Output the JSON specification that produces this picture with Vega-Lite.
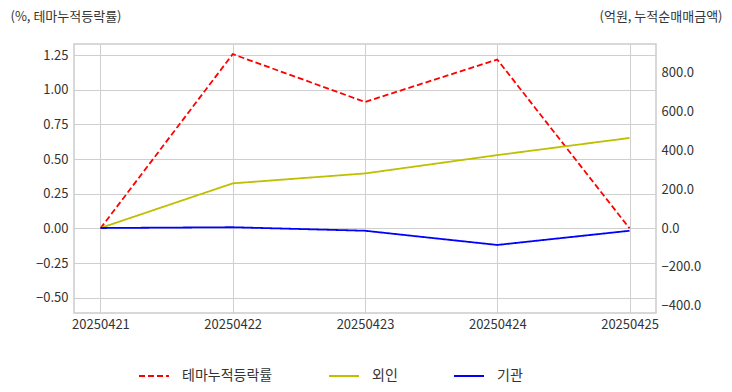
{
  "$schema": "https://vega.github.io/schema/vega-lite/v6.json",
  "width": 582,
  "height": 269,
  "autosize": {"type": "none"},
  "padding": {"left": 74, "top": 44, "right": 76, "bottom": 79},
  "background": "white",
  "config": {
    "font": "Noto Sans CJK KR",
    "view": {"stroke": "#cccccc", "strokeWidth": 1.5},
    "axis": {
      "gridColor": "#cfcfcf",
      "gridWidth": 1,
      "domain": false,
      "ticks": false,
      "labelColor": "#333333",
      "labelFontSize": 13,
      "labelFont": "Noto Sans CJK KR",
      "titleFont": "Noto Sans CJK KR",
      "titleFontWeight": "normal",
      "titleFontSize": 13,
      "titleColor": "#333333"
    },
    "legend": {
      "labelFont": "Noto Sans CJK KR",
      "labelFontSize": 14,
      "labelColor": "#333333"
    }
  },
  "datasets": {
    "theme": [
      {"date": "20250421", "series": "테마누적등락률", "value": 0.0},
      {"date": "20250422", "series": "테마누적등락률", "value": 1.257},
      {"date": "20250423", "series": "테마누적등락률", "value": 0.912},
      {"date": "20250424", "series": "테마누적등락률", "value": 1.218},
      {"date": "20250425", "series": "테마누적등락률", "value": 0.0}
    ],
    "flow": [
      {"date": "20250421", "series": "외인", "value": 0},
      {"date": "20250422", "series": "외인", "value": 229},
      {"date": "20250423", "series": "외인", "value": 280},
      {"date": "20250424", "series": "외인", "value": 374},
      {"date": "20250425", "series": "외인", "value": 462},
      {"date": "20250421", "series": "기관", "value": 0},
      {"date": "20250422", "series": "기관", "value": 4},
      {"date": "20250423", "series": "기관", "value": -14},
      {"date": "20250424", "series": "기관", "value": -87},
      {"date": "20250425", "series": "기관", "value": -14}
    ]
  },
  "layer": [
    {
      "data": {"name": "theme"},
      "mark": {"type": "line", "strokeWidth": 1.8},
      "encoding": {
        "x": {
          "field": "date", "type": "ordinal",
          "scale": {"type": "point", "padding": 0.2},
          "axis": {"labelAngle": 0, "title": null, "labelPadding": 5, "grid": true}
        },
        "y": {
          "field": "value", "type": "quantitative",
          "scale": {"domain": [-0.61, 1.33], "nice": false, "zero": false},
          "axis": {
            "orient": "left",
            "values": [-0.5, -0.25, 0, 0.25, 0.5, 0.75, 1, 1.25],
            "format": ".2f",
            "labelPadding": 6,
            "title": "(%, 테마누적등락률)",
            "titleAngle": 0,
            "titleX": -64,
            "titleY": -28,
            "titleAlign": "left",
            "titleBaseline": "middle"
          }
        },
        "color": {
          "field": "series", "type": "nominal",
          "scale": {"domain": ["테마누적등락률", "외인", "기관"], "range": ["#ff0000", "#bfbf00", "#0000ff"]},
          "legend": {
            "title": null, "orient": "none", "direction": "horizontal",
            "legendX": 64, "legendY": 316,
            "symbolType": "stroke", "symbolSize": 900, "symbolStrokeWidth": 2,
            "labelOffset": 12, "columnPadding": 52
          }
        },
        "strokeDash": {
          "field": "series", "type": "nominal",
          "scale": {"domain": ["테마누적등락률", "외인", "기관"], "range": [[6, 3], [1, 0], [1, 0]]},
          "legend": {
            "title": null, "orient": "none", "direction": "horizontal",
            "legendX": 64, "legendY": 316,
            "symbolType": "stroke", "symbolSize": 900, "symbolStrokeWidth": 2,
            "labelOffset": 12, "columnPadding": 52
          }
        }
      }
    },
    {
      "data": {"name": "flow"},
      "mark": {"type": "line", "strokeWidth": 1.8},
      "encoding": {
        "x": {
          "field": "date", "type": "ordinal",
          "scale": {"type": "point", "padding": 0.2},
          "axis": {"labelAngle": 0, "title": null, "labelPadding": 5, "grid": true}
        },
        "y": {
          "field": "value", "type": "quantitative",
          "scale": {"domain": [-436, 944], "nice": false, "zero": false},
          "axis": {
            "orient": "right",
            "values": [-400, -200, 0, 200, 400, 600, 800],
            "format": ".1f",
            "labelPadding": 5,
            "title": "(억원, 누적순매매금액)",
            "titleAngle": 0,
            "titleX": 66,
            "titleY": -28,
            "titleAlign": "right",
            "titleBaseline": "middle"
          }
        },
        "color": {"field": "series", "type": "nominal"},
        "strokeDash": {"field": "series", "type": "nominal"}
      }
    }
  ],
  "resolve": {"scale": {"y": "independent"}}
}
